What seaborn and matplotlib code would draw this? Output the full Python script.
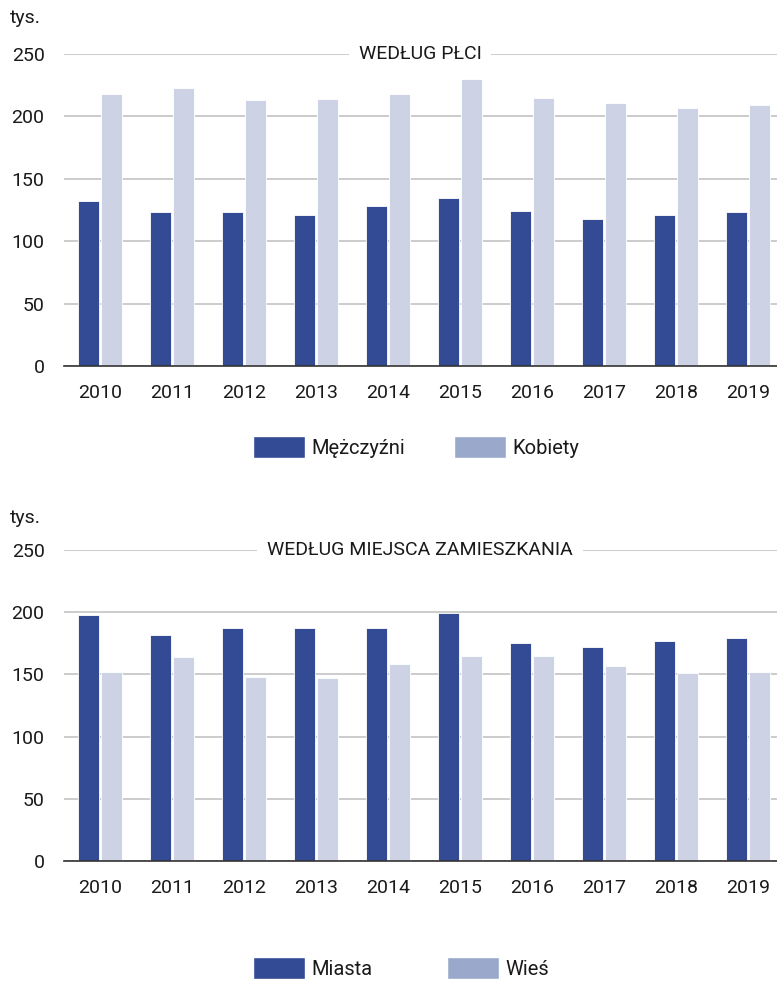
import numpy as np
import pandas as pd
import matplotlib
matplotlib.use("Agg")
import matplotlib.pyplot as plt
import matplotlib.transforms as mtransforms
from matplotlib.patches import Patch
import seaborn as sns

# ==========================================
# DATA (thousands)
# ==========================================

years = ["2010", "2011", "2012", "2013", "2014", "2015", "2016", "2017", "2018", "2019"]

men = [132, 123, 123, 121, 128, 135, 124, 118, 121, 123]
women = [218, 223, 213, 214, 218, 230, 215, 211, 207, 209]

town = [198, 182, 187, 187, 187, 199, 175, 172, 177, 179]
village = [152, 164, 148, 147, 158, 165, 165, 157, 151, 152]

yticks = [0, 50, 100, 150, 200, 250]

DARK = "#334a94"
LIGHT = "#cdd3e5"
LIGHT_LEG = "#9aa8cb"
TXT = "#1a1a1a"

sns.set_style("white")
plt.rcParams["font.family"] = ["Roboto", "DejaVu Sans"]

fig = plt.figure(figsize=(7.77, 9.81), dpi=100)

panels = [
    dict(rect=[64/777, 1-366/981, 720/777, 312/981], names=("Mężczyźni", "Kobiety"),
         vals=(men, women), title="WEDŁUG PŁCI", tys_y=1-18/981,
         leg_xy=(416/777, 1-447/981), colsp=2.45),
    dict(rect=[64/777, 1-861/981, 720/777, 311/981], names=("Miasta", "Wieś"),
         vals=(town, village), title="WEDŁUG MIEJSCA ZAMIESZKANIA", tys_y=1-518/981,
         leg_xy=(401/777, 1-968/981), colsp=3.7),
]

for p in panels:
    ax = fig.add_axes(p["rect"])
    df = pd.DataFrame({
        "year": years * 2,
        "value": list(p["vals"][0]) + list(p["vals"][1]),
        "group": [p["names"][0]] * len(years) + [p["names"][1]] * len(years),
    })
    sns.barplot(data=df, x="year", y="value", hue="group",
                palette=[DARK, LIGHT], width=0.64, gap=0.12,
                edgecolor="white", linewidth=0.6, saturation=1,
                legend=False, ax=ax, zorder=3)

    ax.set_ylim(0, 250)
    ax.set_xlim(-0.5, 9.5)
    ax.set_yticks(yticks)
    ax.yaxis.grid(True, color="#c4c4c4", linewidth=1.2)
    ax.set_axisbelow(True)
    for s in ["top", "right", "left"]:
        ax.spines[s].set_visible(False)
    ax.spines["bottom"].set_color("#333333")
    ax.spines["bottom"].set_linewidth(1.2)
    ax.spines["bottom"].set_zorder(4)

    ax.set_xticks(np.arange(-0.5, 10, 1), minor=True)
    ax.tick_params(axis="x", which="major", length=0, pad=13, labelsize=14, labelcolor=TXT)
    ax.tick_params(axis="x", which="minor", length=6, width=1, color="#333333", direction="out")
    ax.tick_params(axis="y", length=0, pad=14, labelsize=14, labelcolor=TXT)
    ax.set_xlabel("")
    ax.set_ylabel("")

    # section title sitting on the top gridline
    trans = mtransforms.blended_transform_factory(fig.transFigure, ax.transData)
    ax.text(420/777, 250, p["title"], transform=trans, ha="center", va="center",
            fontsize=14, color=TXT, zorder=10,
            bbox=dict(facecolor="white", edgecolor="none", pad=7))

    fig.text(10/777, p["tys_y"], "tys.", ha="left", va="center", fontsize=14, color=TXT)

    handles = [Patch(facecolor=DARK, label=p["names"][0]),
               Patch(facecolor=LIGHT_LEG, label=p["names"][1])]
    fig.legend(handles=handles, loc="center", bbox_to_anchor=p["leg_xy"], ncol=2,
               frameon=False, fontsize=14.5, handlelength=2.6, handleheight=1.3,
               handletextpad=0.3, columnspacing=p["colsp"], labelcolor=TXT)

fig.savefig("out.png", dpi=100)
